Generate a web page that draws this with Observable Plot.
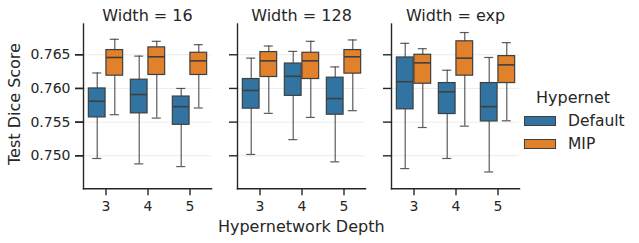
<!DOCTYPE html>
<html>
<head>
<meta charset="utf-8">
<script src="https://cdn.jsdelivr.net/npm/d3@7"></script>
<script src="https://cdn.jsdelivr.net/npm/@observablehq/plot@0.6"></script>
<style>
  html, body { margin: 0; padding: 0; background: white; }
  #wrap { position: relative; width: 639px; height: 243px; font-family: "DejaVu Sans", sans-serif; color: #262626; }
  .lbl { position: absolute; white-space: nowrap; line-height: 19px; }
  .patch { position: absolute; width: 30px; height: 8px; border: 1px solid #3f3f3f; }
</style>
</head>
<body>
<div id="wrap"></div>
<script>
// ---- data ----
const widths = ["16", "128", "exp"];
const depths = [3, 4, 5];
const hypernets = ["Default", "MIP"];
const colors = ["#3274a1", "#e1812c"];
const yTicks = [0.750, 0.755, 0.760, 0.765];
const yDomain = [0.7451, 0.76957];

// order: width 16 (d3,d4,d5), width 128 (d3,d4,d5), width exp (d3,d4,d5)
const defaultLow  = [0.7496, 0.7488, 0.7484, 0.7502, 0.7524, 0.7491, 0.7481, 0.7496, 0.7476];
const defaultQ1   = [0.7557, 0.7563, 0.7546, 0.7570, 0.7589, 0.7561, 0.7569, 0.7562, 0.7551];
const defaultMed  = [0.7581, 0.7591, 0.7573, 0.7597, 0.7618, 0.7585, 0.7610, 0.7595, 0.7573];
const defaultQ3   = [0.7600, 0.7613, 0.7588, 0.7614, 0.7637, 0.7616, 0.7646, 0.7608, 0.7608];
const defaultHigh = [0.7623, 0.7648, 0.7600, 0.7645, 0.7655, 0.7632, 0.7667, 0.7627, 0.7646];

const mipLow  = [0.7561, 0.7556, 0.7571, 0.7563, 0.7557, 0.7567, 0.7542, 0.7544, 0.7552];
const mipQ1   = [0.7619, 0.7620, 0.7620, 0.7617, 0.7614, 0.7622, 0.7607, 0.7619, 0.7608];
const mipMed  = [0.7646, 0.7647, 0.7641, 0.7641, 0.7641, 0.7647, 0.7638, 0.7645, 0.7635];
const mipQ3   = [0.7657, 0.7661, 0.7653, 0.7654, 0.7653, 0.7657, 0.7650, 0.7670, 0.7648];
const mipHigh = [0.7673, 0.7670, 0.7665, 0.7663, 0.7670, 0.7672, 0.7659, 0.7683, 0.7668];

function buildRows(hn, low, q1, med, q3, high) {
  const rows = [];
  let i = 0;
  for (const w of widths) for (const d of depths) {
    rows.push({width: w, depth: d, hypernet: hn, low: low[i], q1: q1[i], med: med[i], q3: q3[i], high: high[i]});
    i++;
  }
  return rows;
}
const defRows = buildRows("Default", defaultLow, defaultQ1, defaultMed, defaultQ3, defaultHigh);
const mipRows = buildRows("MIP", mipLow, mipQ1, mipMed, mipQ3, mipHigh);

// ---- layout ----
const W = 639, H = 243;
const mL = 82.5, mR = 119, mT = 23.5, mB = 54.7;
const padIn = 0.168;
const step = (W - mL - mR) / (widths.length - padIn);
const facetW = step * (1 - padIn);
const BW = facetW / depths.length;
const edge = "#3f3f3f";
const ink = "#262626";

function boxMarks(rows, color, side) {
  // side 0 = left half (Default), 1 = right half (MIP)
  const boxL = side === 0 ? 0.09 : 0.5, boxR = side === 0 ? 0.5 : 0.91;
  const center = (boxL + boxR) / 2;
  const capL = center - 0.115, capR = center + 0.115;
  const common = {fx: "width", x: "depth"};
  return [
    Plot.ruleX(rows, {...common, y1: "low", y2: "high", dx: (center - 0.5) * BW, stroke: edge, strokeOpacity: 0.85, strokeWidth: 1.2}),
    Plot.tickY(rows, {...common, y: "low", insetLeft: capL * BW, insetRight: (1 - capR) * BW, stroke: edge, strokeOpacity: 0.85, strokeWidth: 1.2}),
    Plot.tickY(rows, {...common, y: "high", insetLeft: capL * BW, insetRight: (1 - capR) * BW, stroke: edge, strokeOpacity: 0.85, strokeWidth: 1.2}),
    Plot.barY(rows, {...common, y1: "q1", y2: "q3", fill: color, stroke: edge, strokeWidth: 1.2, insetLeft: boxL * BW, insetRight: (1 - boxR) * BW}),
    Plot.tickY(rows, {...common, y: "med", insetLeft: boxL * BW, insetRight: (1 - boxR) * BW, stroke: edge, strokeWidth: 1.6})
  ];
}

const chart = Plot.plot({
  width: W, height: H,
  marginLeft: mL, marginRight: mR, marginTop: mT, marginBottom: mB,
  style: {fontFamily: "DejaVu Sans", fontSize: "14px", color: ink, background: "white", overflow: "visible"},
  fx: {domain: widths, paddingInner: padIn, paddingOuter: 0, label: null},
  x: {domain: depths, padding: 0, label: null},
  y: {domain: yDomain, label: null},
  marks: [
    Plot.gridY(yTicks, {stroke: "#ebebeb", strokeOpacity: 1, strokeWidth: 1}),
    ...boxMarks(defRows, colors[0], 0),
    ...boxMarks(mipRows, colors[1], 1),
    Plot.frame({anchor: "left", stroke: ink, strokeWidth: 1.4}),
    Plot.frame({anchor: "bottom", stroke: ink, strokeWidth: 1.4}),
    Plot.axisY({ticks: yTicks, tickSize: 8, tickPadding: 5, tickFormat: d3.format(".3f"), label: null, fontSize: 14, stroke: ink, strokeWidth: 1.4}),
    Plot.axisY({ticks: yTicks, tickSize: 8, facetAnchor: null, tickFormat: () => "", label: null, stroke: ink, strokeWidth: 1.4}),
    Plot.axisX({tickSize: 7, tickPadding: 5, label: null, fontSize: 14, stroke: ink, strokeWidth: 1.4}),
    Plot.axisFx({anchor: "top", tickSize: 0, tickPadding: 3, label: null, fontSize: 16, tickFormat: d => `Width = ${d}`})
  ]
});

const wrap = document.getElementById("wrap");
wrap.appendChild(chart);

function addLabel(text, left, top, size, extra) {
  const el = document.createElement("div");
  el.className = "lbl";
  el.textContent = text;
  el.style.left = left + "px";
  el.style.top = top + "px";
  el.style.fontSize = size + "px";
  if (extra) Object.assign(el.style, extra);
  wrap.appendChild(el);
  return el;
}
// axis titles
addLabel("Test Dice Score", 14, 104, 16, {transform: "translate(-50%, -50%) rotate(-90deg)"});
addLabel("Hypernetwork Depth", mL + step + facetW / 2, 226, 16, {transform: "translate(-50%, -50%)"});

// legend
addLabel("Hypernet", 536, 96.7, 16, {transform: "translateY(-50%)"});
const legendY = [121.2, 143.8];
hypernets.forEach((h, i) => {
  const p = document.createElement("div");
  p.className = "patch";
  p.style.left = "524px";
  p.style.top = (legendY[i] - 5) + "px";
  p.style.background = colors[i];
  wrap.appendChild(p);
  addLabel(h, 568, legendY[i], 15.5, {transform: "translateY(-50%)"});
});
</script>
</body>
</html>
